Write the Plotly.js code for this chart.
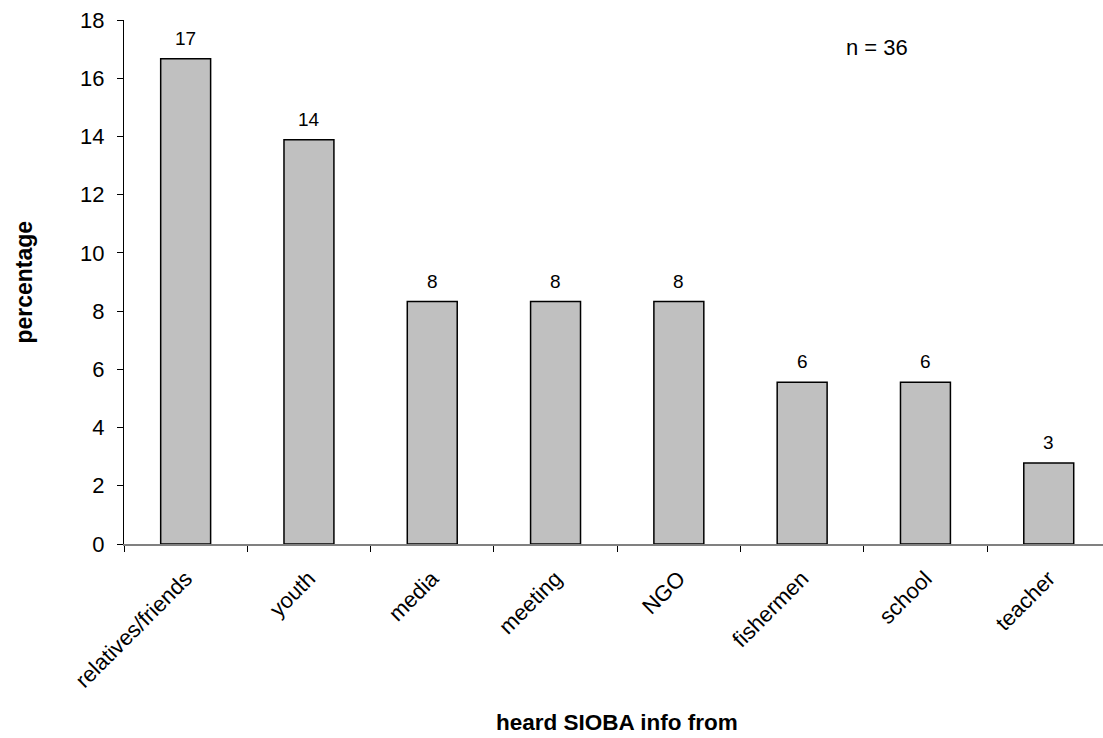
<!DOCTYPE html>
<html><head><meta charset="utf-8">
<script src="https://cdn.plot.ly/plotly-3.0.1.min.js"></script>
<style>html,body{margin:0;padding:0;background:#fff}</style>
</head><body>
<div id="chart" style="width:1103px;height:738px"></div>
<script>
const categories = ["relatives/friends","youth","media","meeting","NGO","fishermen","school","teacher"];
const percentages = [16.67, 13.89, 8.33, 8.33, 8.33, 5.56, 5.56, 2.78];
const barLabels = ["17","14","8","8","8","6","6","3"];
const yTicks = [0,2,4,6,8,10,12,14,16,18];

const font = "Liberation Sans, Arial, sans-serif";

const trace = {
  type: "bar",
  x: categories,
  y: percentages,
  width: 0.405,
  marker: {color: "#c0c0c0", line: {color: "#000", width: 1.5}},
  hoverinfo: "none"
};

const annotations = categories.map((c, i) => ({
  x: c, y: percentages[i], xref: "x", yref: "y",
  text: barLabels[i], showarrow: false, yanchor: "bottom", yshift: 8,
  font: {family: font, size: 19, color: "#000"}
}));
annotations.push({
  xref: "paper", yref: "paper", x: 0.769, y: 0.947, xanchor: "center", yanchor: "middle",
  text: "n = 36", showarrow: false, font: {family: font, size: 22, color: "#000"}
});
annotations.push({
  xref: "paper", yref: "paper", x: 0.504, y: -0.341, xanchor: "center", yanchor: "middle",
  text: "<b>heard SIOBA info from</b>", showarrow: false, font: {family: font, size: 22.5, color: "#000"}
});
annotations.push({
  xref: "paper", yref: "paper", x: -0.1026, y: 0.5, xanchor: "center", yanchor: "middle",
  textangle: -90,
  text: "<b>percentage</b>", showarrow: false, font: {family: font, size: 23, color: "#000"}
});

const layout = {
  width: 1103, height: 738,
  margin: {l: 123.5, r: 0, t: 20, b: 194, pad: 0},
  paper_bgcolor: "#fff", plot_bgcolor: "#fff",
  showlegend: false,
  font: {family: font, color: "#000"},
  xaxis: {
    type: "category",
    range: [-0.5, 7.44],
    showline: true, linecolor: "#808080", linewidth: 2,
    ticks: "outside", tickson: "boundaries", ticklen: 6, tickcolor: "#000", tickwidth: 1,
    tickangle: -45, tickfont: {family: font, size: 22, color: "#000"},
    ticklabelstandoff: 11,
    showgrid: false, zeroline: false, automargin: false
  },
  yaxis: {
    range: [0, 18],
    tickvals: yTicks, ticktext: yTicks.map(String),
    showline: true, linecolor: "#000", linewidth: 1,
    ticks: "outside", ticklen: 6, tickcolor: "#000",
    tickfont: {family: font, size: 22, color: "#000"},
    ticklabelstandoff: 8,
    showgrid: false, zeroline: false, automargin: false
  },
  annotations: annotations
};

Plotly.newPlot("chart", [trace], layout, {displayModeBar: false, staticPlot: true});
</script>
</body></html>
